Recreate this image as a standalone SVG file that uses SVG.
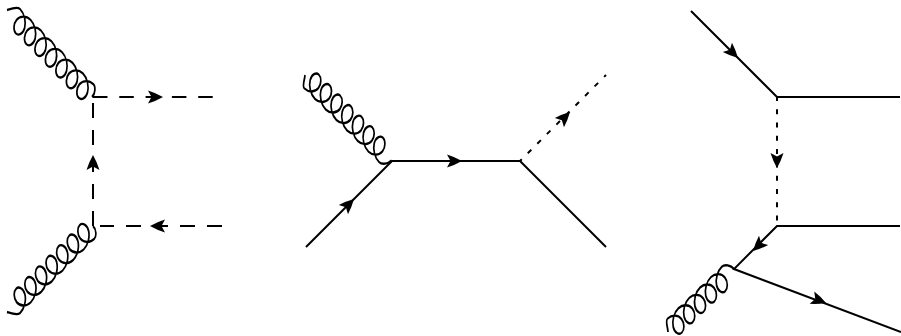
<svg xmlns="http://www.w3.org/2000/svg" width="901" height="336" viewBox="0 0 901 336">
<style>
.l{fill:none;stroke:#000;stroke-width:2}
.da{stroke-dasharray:15 12}
.db{stroke-dasharray:14.5 11.8}
.do{stroke-dasharray:5 8.5;stroke-dashoffset:2.5}
.dv{stroke-dasharray:5 8.3;stroke-dashoffset:1.1}
.g{fill:none;stroke:#000;stroke-width:2}
</style>
<defs>
<path id="arrow" d="M0,0Q-7,-4 -15,-6.5L-11.5,0L-15,6.5Q-7,4 0,0Z" fill="#000"/>
<path id="coilP" transform="skewX(19)" d="M0,0C3,-3.5 8,-10 12,-10c6.22,0 12,4.76 13.25,10c1.25,5.24 -2.03,10 -5.75,10c-3.72,0 -7,-4.76 -5.75,-10c1.25,-5.24 7.03,-10 13.25,-10c6.22,0 12,4.76 13.25,10c1.25,5.24 -2.03,10 -5.75,10c-3.72,0 -7,-4.76 -5.75,-10c1.25,-5.24 7.03,-10 13.25,-10c6.22,0 12,4.76 13.25,10c1.25,5.24 -2.03,10 -5.75,10c-3.72,0 -7,-4.76 -5.75,-10c1.25,-5.24 7.03,-10 13.25,-10c6.22,0 12,4.76 13.25,10c1.25,5.24 -2.03,10 -5.75,10c-3.72,0 -7,-4.76 -5.75,-10c1.25,-5.24 7.03,-10 13.25,-10c6.22,0 12,4.76 13.25,10c1.25,5.24 -2.03,10 -5.75,10c-3.72,0 -7,-4.76 -5.75,-10c1.25,-5.24 7.03,-10 13.25,-10c6.22,0 12,4.76 13.25,10c1.25,5.24 -2.03,10 -5.75,10c-3.72,0 -7,-4.76 -5.75,-10c1.25,-5.24 7.03,-10 13.25,-10c6.22,0 12,4.76 13.25,10c1.25,5.24 -2.03,10 -5.75,10c-3.72,0 -7,-4.76 -5.75,-10c1.25,-5.24 7.03,-10 13.25,-10c3,0 6.5,5 4.6,10" class="g"/>
<path id="coilN" transform="skewX(-19)" d="M0,0C2,-3.5 2,-10 5.5,-10c6.22,0 12,4.76 13.25,10c1.25,5.24 -2.03,10 -5.75,10c-3.72,0 -7,-4.76 -5.75,-10c1.25,-5.24 7.03,-10 13.25,-10c6.22,0 12,4.76 13.25,10c1.25,5.24 -2.03,10 -5.75,10c-3.72,0 -7,-4.76 -5.75,-10c1.25,-5.24 7.03,-10 13.25,-10c6.22,0 12,4.76 13.25,10c1.25,5.24 -2.03,10 -5.75,10c-3.72,0 -7,-4.76 -5.75,-10c1.25,-5.24 7.03,-10 13.25,-10c6.22,0 12,4.76 13.25,10c1.25,5.24 -2.03,10 -5.75,10c-3.72,0 -7,-4.76 -5.75,-10c1.25,-5.24 7.03,-10 13.25,-10c6.22,0 12,4.76 13.25,10c1.25,5.24 -2.03,10 -5.75,10c-3.72,0 -7,-4.76 -5.75,-10c1.25,-5.24 7.03,-10 13.25,-10c6.22,0 12,4.76 13.25,10c1.25,5.24 -2.03,10 -5.75,10c-3.72,0 -7,-4.76 -5.75,-10c1.25,-5.24 7.03,-10 13.25,-10c6.22,0 12,4.76 13.25,10c1.25,5.24 -2.03,10 -5.75,10c-3.72,0 -7,-4.76 -5.75,-10c1.25,-5.24 7.03,-10 13.25,-10c4,0 9.3,5 11.1,10" class="g"/>
<path id="coilN5" transform="skewX(-19)" d="M0,0C2,-3.5 2,-10 5.5,-10c6.22,0 12,4.76 13.25,10c1.25,5.24 -2.03,10 -5.75,10c-3.72,0 -7,-4.76 -5.75,-10c1.25,-5.24 7.03,-10 13.25,-10c6.22,0 12,4.76 13.25,10c1.25,5.24 -2.03,10 -5.75,10c-3.72,0 -7,-4.76 -5.75,-10c1.25,-5.24 7.03,-10 13.25,-10c6.22,0 12,4.76 13.25,10c1.25,5.24 -2.03,10 -5.75,10c-3.72,0 -7,-4.76 -5.75,-10c1.25,-5.24 7.03,-10 13.25,-10c6.22,0 12,4.76 13.25,10c1.25,5.24 -2.03,10 -5.75,10c-3.72,0 -7,-4.76 -5.75,-10c1.25,-5.24 7.03,-10 13.25,-10c6.22,0 12,4.76 13.25,10c1.25,5.24 -2.03,10 -5.75,10c-3.72,0 -7,-4.76 -5.75,-10c1.25,-5.24 7.03,-10 13.25,-10c4,0 9.3,5 10.8,10" class="g"/>
</defs>
<g id="connectors">
<use href="#coilP" transform="translate(7,10) rotate(45.7)"/>
<use href="#coilP" transform="translate(7,312) rotate(-45) scale(1,-1)"/>
<path class="l db" d="M93,97H215"/>
<path class="l da" d="M222,226H100"/>
<path class="l da" d="M93,226V97"/>
<use href="#arrow" transform="translate(163,97)"/>
<use href="#arrow" transform="translate(150,226) rotate(180)"/>
<use href="#arrow" transform="translate(93,155) rotate(-90)"/>
<use href="#coilN" transform="translate(305,75) rotate(44.6) scale(1,-1)"/>
<path class="l" d="M306,247L392,161H520L606,247"/>
<path class="l do" d="M520,161L606,75"/>
<use href="#arrow" transform="translate(354,199) rotate(-45)"/>
<use href="#arrow" transform="translate(462,161)"/>
<use href="#arrow" transform="translate(570,112) rotate(-45)"/>
<use href="#coilN5" transform="translate(668,332) rotate(-43.7)"/>
<path class="l" d="M691,11L777,97H900"/>
<path class="l dv" d="M777,97V226"/>
<path class="l" d="M900,226H777L734,269L901,332"/>
<use href="#arrow" transform="translate(738,58) rotate(45)"/>
<use href="#arrow" transform="translate(777,168) rotate(90)"/>
<use href="#arrow" transform="translate(753,251) rotate(135)"/>
<use href="#arrow" transform="translate(826,303) rotate(20.7)"/>
</g>
</svg>
